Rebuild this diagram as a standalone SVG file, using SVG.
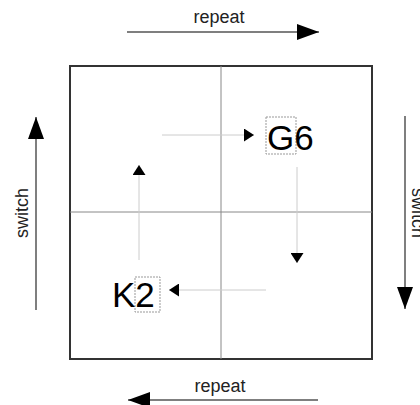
<svg xmlns="http://www.w3.org/2000/svg" width="420" height="405" viewBox="0 0 420 405">
<defs>
<style>
.lbl{font-family:"Liberation Sans",Arial,sans-serif;font-size:18px;fill:#222}
.big{font-family:"Liberation Sans",Arial,sans-serif;font-size:35px;fill:#000}
.outer{stroke:#555;stroke-width:1.5;fill:none}
.inner{stroke:#ccc;stroke-width:1;fill:none}
.grid{stroke:#888;stroke-width:1;fill:none}
.box{stroke:#999;stroke-width:1;stroke-dasharray:2,1;fill:none}
</style>
<marker id="bigArrow" markerUnits="userSpaceOnUse" markerWidth="22" markerHeight="16" refX="22" refY="8" orient="auto">
<path d="M0,0 L22,8 L0,16 z" fill="#000"/>
</marker>
<marker id="smallArrow" markerUnits="userSpaceOnUse" markerWidth="10" markerHeight="13" refX="10" refY="6.5" orient="auto">
<path d="M0,0 L10,6.5 L0,13 z" fill="#000"/>
</marker>
</defs>
<rect width="420" height="405" fill="#fff"/>
<g id="frame">
<rect x="70" y="66" width="302" height="293" fill="none" stroke="#333" stroke-width="2"/>
<line class="grid" x1="221" y1="66" x2="221" y2="359"/>
<line class="grid" x1="70" y1="212" x2="372" y2="212"/>
</g>
<g id="connectors">
<line class="outer" x1="127" y1="32" x2="319" y2="32" marker-end="url(#bigArrow)"/>
<line class="outer" x1="318" y1="400" x2="128" y2="400" marker-end="url(#bigArrow)"/>
<line class="outer" x1="36" y1="310" x2="36" y2="117" marker-end="url(#bigArrow)"/>
<line class="outer" x1="405" y1="116" x2="405" y2="309" marker-end="url(#bigArrow)"/>
<line class="inner" x1="162" y1="135" x2="254" y2="135" marker-end="url(#smallArrow)"/>
<line class="inner" x1="297" y1="167" x2="297" y2="263" marker-end="url(#smallArrow)"/>
<line class="inner" x1="266" y1="290" x2="169" y2="290" marker-end="url(#smallArrow)"/>
<line class="inner" x1="139" y1="260" x2="139" y2="165" marker-end="url(#smallArrow)"/>
</g>
<g id="labels">
<text class="lbl" x="219" y="23" text-anchor="middle">repeat</text>
<text class="lbl" x="220" y="392" text-anchor="middle">repeat</text>
<text class="lbl" transform="translate(28,213) rotate(-90)" text-anchor="middle">switch</text>
<text class="lbl" transform="translate(412,213) rotate(90)" text-anchor="middle">switch</text>
</g>
<g id="G6">
<rect class="box" x="266" y="117" width="30" height="37"/>
<text class="big" x="267" y="150">G6</text>
</g>
<g id="K2">
<rect class="box" x="135" y="277" width="25" height="35"/>
<text class="big" x="112" y="307">K2</text>
</g>
</svg>
